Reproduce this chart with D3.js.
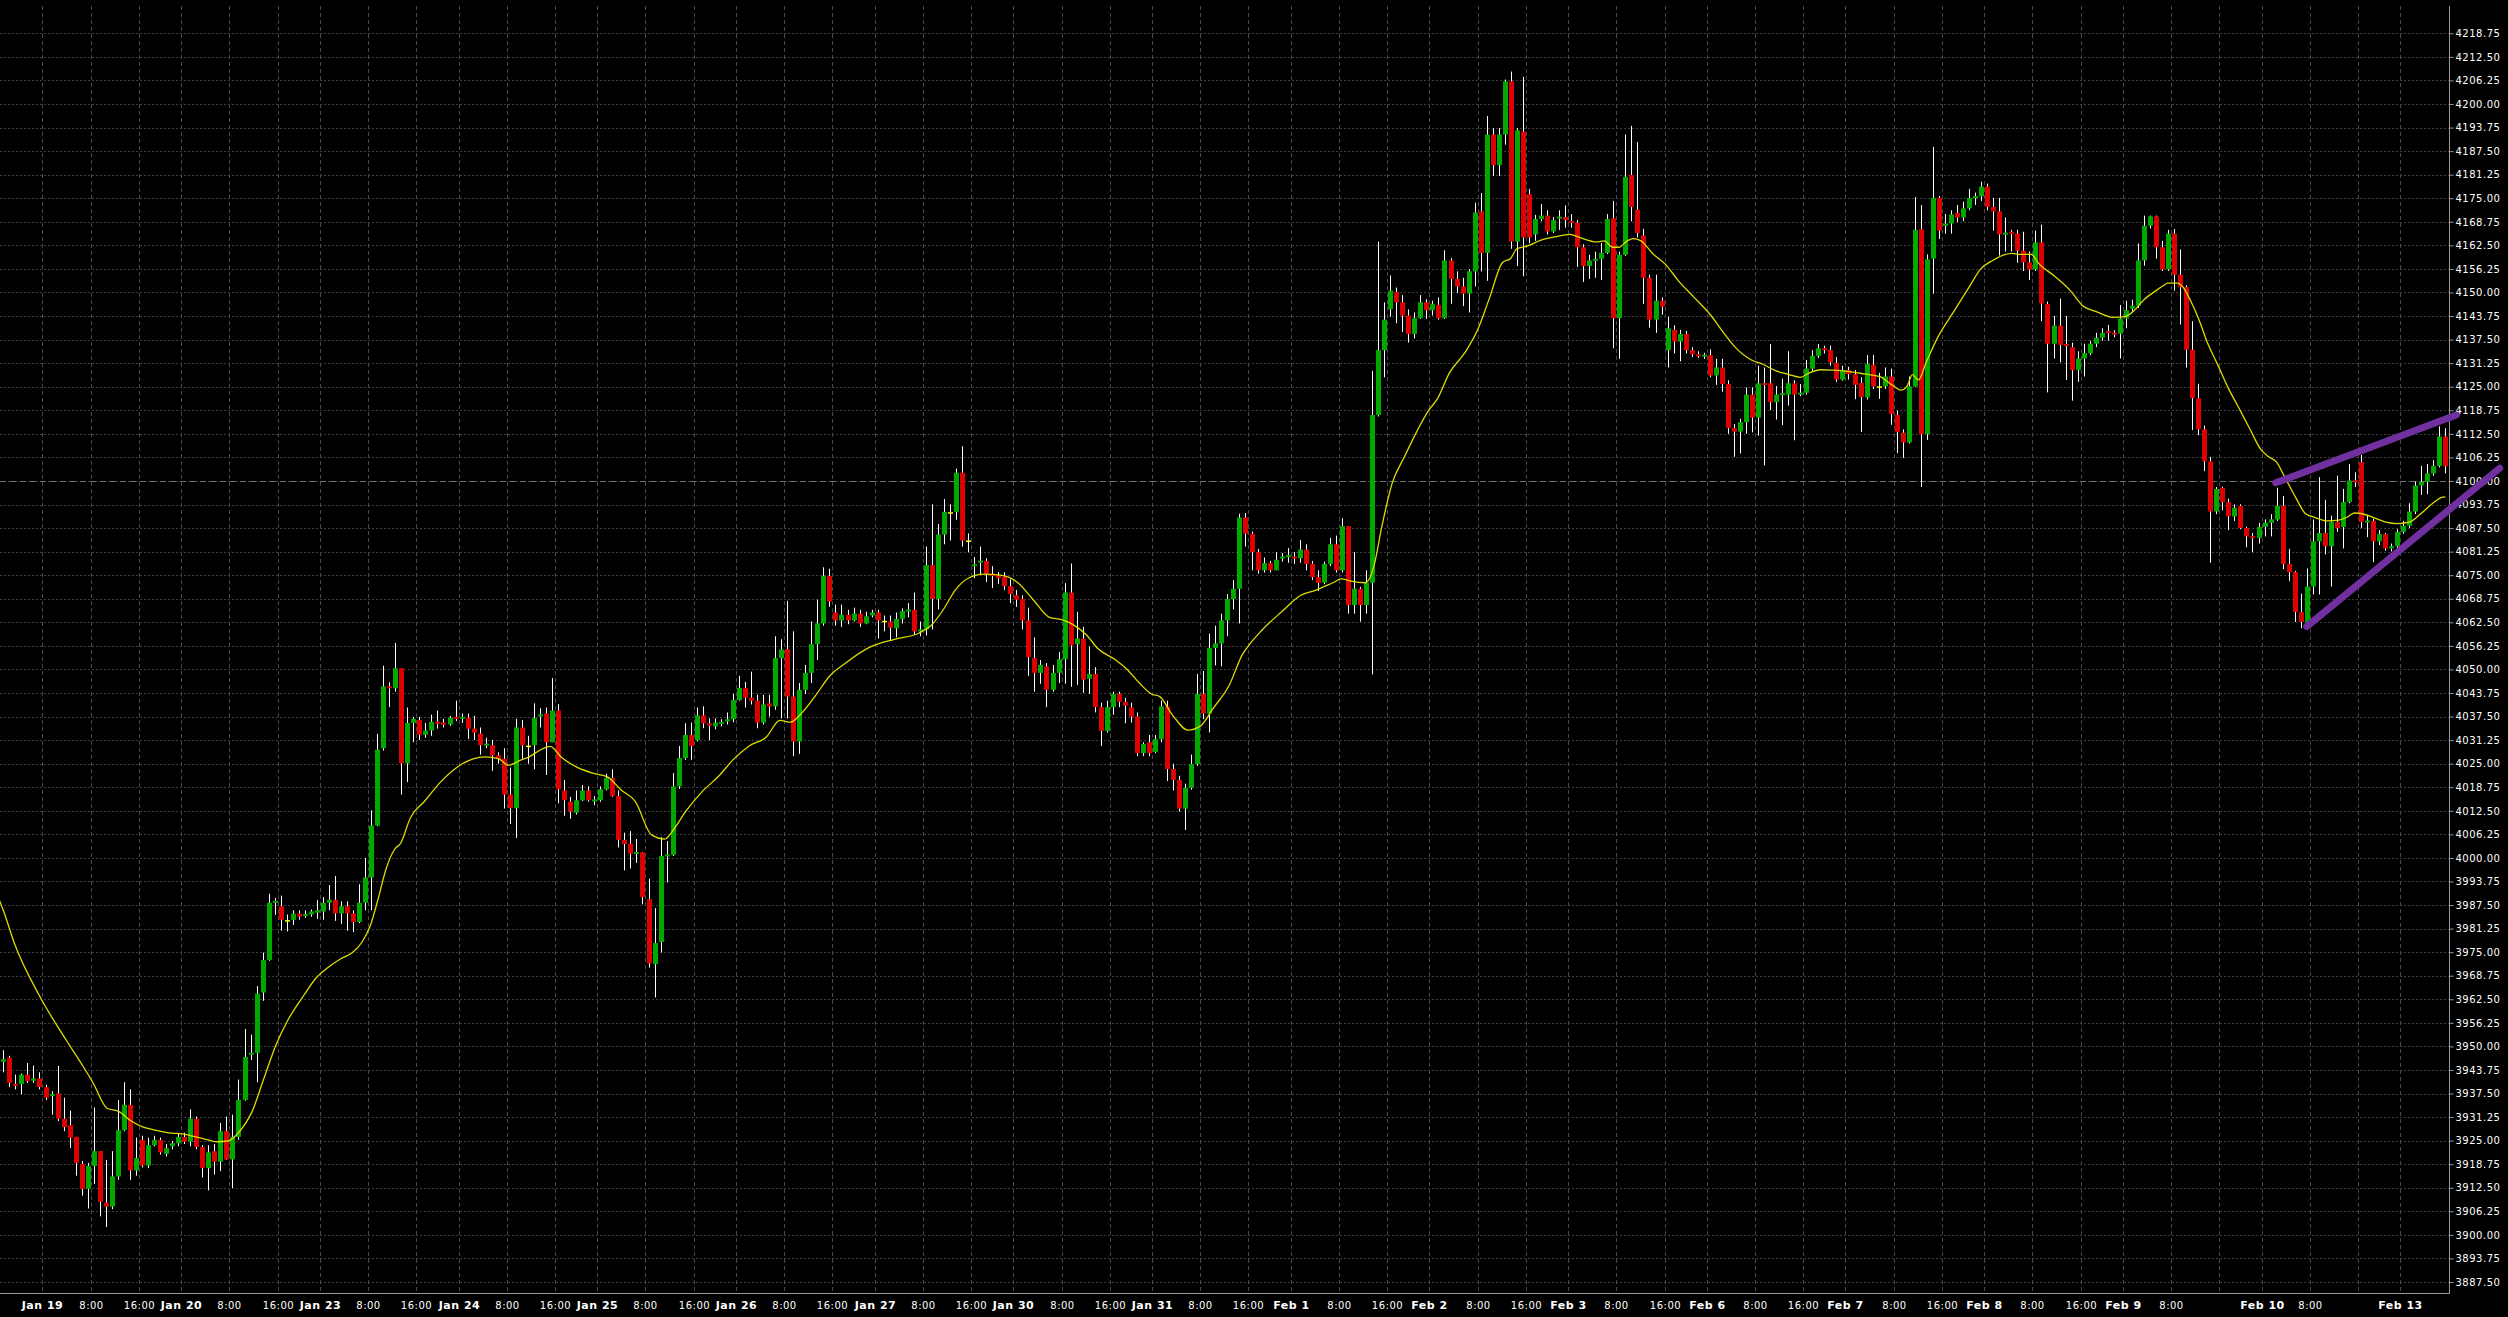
<!DOCTYPE html>
<html><head><meta charset="utf-8">
<script src="https://cdn.jsdelivr.net/npm/d3@7"></script>
<style>html,body{margin:0;padding:0;background:#000;overflow:hidden}svg{display:block}</style>
</head><body><svg id="chart" width="2508" height="1317"></svg>
<script>
const open=[
3945.9,3947.0,3940.0,3940.0,3942.5,3940.9,3941.5,3939.2,3936.9,3937.5,
3930.8,3929.1,3926.0,3918.8,3912.2,3918.3,3922.2,3908.6,3907.5,3915.5,
3927.8,3934.5,3917.1,3925.2,3918.4,3923.8,3925.2,3921.5,3923.5,3924.3,
3926.0,3924.7,3930.8,3923.3,3917.7,3922.2,3919.4,3927.5,3920.0,3926.0,
3935.8,3947.8,3948.3,3964.3,3972.9,3988.1,3987.2,3983.3,3983.6,3985.2,
3984.7,3985.0,3985.5,3985.8,3988.1,3988.9,3985.3,3987.2,3985.3,3983.0,
3988.1,3994.8,4008.6,4029.1,4045.5,4045.0,4050.3,4025.1,4035.8,4036.6,
4032.7,4033.8,4036.1,4035.8,4035.4,4037.4,4036.9,4037.2,4034.3,4033.0,
4029.9,4029.9,4027.2,4026.3,4016.8,4013.2,4034.6,4029.6,4029.9,4037.6,
4038.3,4030.7,4039.1,4017.9,4014.9,4012.0,4015.3,4017.9,4015.1,4015.3,
4018.2,4021.2,4016.4,4004.8,4003.8,4001.1,4001.5,3989.0,3971.8,3977.7,
4000.5,4000.8,4019.0,4026.5,4032.6,4031.2,4037.8,4035.7,4034.9,4035.7,
4036.2,4036.8,4041.9,4045.1,4042.5,4041.7,4035.9,4041.0,4040.2,4053.0,
4055.4,4042.8,4030.9,4044.6,4049.1,4056.7,4062.2,4074.8,4065.1,4063.0,
4064.5,4063.0,4064.8,4062.2,4064.3,4065.1,4062.7,4062.7,4060.9,4063.4,
4065.5,4065.8,4060.1,4060.6,4077.7,4068.7,4085.8,4091.5,4091.8,4102.2,
4084.0,4077.4,4078.4,4078.8,4075.3,4074.8,4074.6,4072.1,4069.7,4068.7,
4063.0,4053.0,4049.1,4050.8,4044.6,4049.1,4052.7,4070.4,4056.7,4058.2,
4047.5,4048.8,4040.0,4033.7,4040.0,4043.5,4041.4,4039.9,4037.5,4027.8,
4030.7,4028.1,4031.5,4040.2,4023.6,4020.7,4013.1,4018.6,4024.9,4043.5,
4038.3,4055.7,4056.9,4063.0,4068.7,4071.4,4090.3,4086.0,4081.1,4076.3,
4078.2,4076.3,4079.5,4079.9,4079.9,4079.5,4081.8,4078.0,4074.5,4073.0,
4078.0,4083.2,4076.3,4088.0,4067.1,4071.4,4067.1,4073.0,4117.5,4134.7,
4145.6,4150.1,4147.4,4143.9,4139.0,4143.2,4147.4,4145.3,4146.7,4143.2,
4158.5,4153.6,4151.6,4149.7,4155.6,4171.5,4160.5,4191.9,4183.8,4191.9,
4206.0,4163.5,4192.7,4176.1,4165.4,4169.5,4170.4,4166.2,4169.7,4170.0,
4168.9,4168.5,4162.0,4157.0,4158.5,4158.9,4160.5,4169.7,4143.2,4160.0,
4181.2,4172.0,4165.1,4153.9,4142.8,4147.8,4134.7,4140.1,4137.0,4139.0,
4134.7,4133.6,4133.1,4133.4,4128.0,4130.1,4125.7,4114.0,4113.1,4115.6,
4122.9,4116.8,4125.9,4125.9,4120.9,4122.9,4122.9,4125.9,4122.9,4123.4,
4129.8,4133.2,4135.2,4134.7,4131.3,4126.9,4129.4,4128.3,4126.0,4122.2,
4130.8,4124.9,4125.1,4127.7,4117.5,4112.8,4110.2,4125.1,4166.8,4112.4,
4159.0,4175.1,4167.7,4168.3,4171.1,4169.9,4172.3,4175.1,4175.5,4178.1,
4172.7,4171.5,4165.4,4166.1,4165.6,4161.1,4158.0,4156.1,4163.3,4146.9,
4136.4,4141.2,4136.3,4135.5,4129.4,4132.5,4133.9,4136.4,4138.0,4139.6,
4139.3,4139.1,4143.1,4145.7,4146.5,4158.5,4167.7,4170.2,4162.0,4156.1,
4165.6,4154.7,4151.4,4134.8,4121.9,4113.7,4105.2,4091.9,4098.2,4094.4,
4090.6,4093.4,4087.5,4085.3,4084.9,4087.8,4088.9,4089.8,4093.4,4078.0,
4075.8,4065.2,4062.6,4072.0,4084.0,4086.2,4082.7,4089.1,4087.8,4094.4,
4100.1,4105.0,4089.1,4089.4,4084.0,4085.9,4082.1,4082.7,4086.5,4088.1,
4091.9,4098.8,4099.8,4102.0,4104.0,4111.8];
const high=[
3949.0,3947.5,3942.5,3942.8,3945.6,3944.9,3943.1,3939.8,3938.1,3944.8,
3936.4,3933.0,3926.0,3919.6,3919.1,3933.8,3922.2,3919.9,3922.2,3935.8,
3940.5,3938.6,3925.8,3926.3,3925.8,3926.3,3925.8,3924.1,3924.9,3926.9,
3927.1,3933.3,3931.4,3923.8,3923.8,3924.1,3929.7,3931.4,3931.9,3941.2,
3954.6,3953.1,3966.0,3974.9,3990.5,3989.4,3990.0,3985.0,3986.1,3986.1,
3986.1,3986.3,3988.8,3989.6,3992.8,3995.2,3988.5,3988.5,3986.1,3993.0,
4000.0,4012.6,4032.9,4051.0,4046.6,4057.0,4050.3,4039.9,4037.4,4037.4,
4035.8,4038.0,4039.1,4036.9,4037.7,4041.7,4038.3,4038.3,4037.7,4034.6,
4031.9,4031.3,4028.0,4029.1,4024.0,4036.9,4036.6,4032.4,4041.0,4039.7,
4039.9,4047.7,4040.8,4020.7,4016.2,4017.9,4019.3,4019.0,4016.4,4019.0,
4022.3,4023.5,4017.9,4006.7,4007.1,4005.0,4001.5,3994.5,3986.7,4005.5,
4004.5,4022.5,4029.7,4035.7,4035.9,4039.9,4040.2,4037.0,4037.0,4036.8,
4038.6,4043.5,4048.3,4046.7,4049.4,4043.3,4043.3,4043.3,4058.8,4058.0,
4068.2,4060.1,4046.4,4051.2,4062.7,4068.5,4077.1,4076.7,4067.2,4067.2,
4065.8,4066.4,4065.8,4065.3,4065.8,4065.8,4064.3,4064.3,4065.1,4066.2,
4067.6,4070.4,4062.7,4082.6,4093.8,4088.6,4095.2,4093.8,4103.3,4109.2,
4086.1,4079.8,4082.6,4079.5,4077.4,4075.8,4075.8,4073.9,4071.1,4069.7,
4066.4,4058.5,4052.5,4051.7,4051.2,4054.6,4072.9,4078.1,4065.3,4061.3,
4056.1,4050.6,4041.2,4041.7,4044.1,4044.1,4042.5,4041.2,4038.6,4030.7,
4032.6,4032.6,4041.7,4041.7,4025.0,4021.8,4019.7,4027.4,4048.8,4049.6,
4059.5,4061.6,4064.8,4070.0,4073.7,4091.3,4091.5,4086.6,4082.0,4079.7,
4078.8,4081.1,4080.9,4082.2,4081.1,4084.3,4083.2,4078.8,4076.3,4078.6,
4084.9,4085.5,4090.1,4088.0,4081.1,4071.9,4076.3,4129.2,4163.5,4147.4,
4154.5,4151.3,4149.3,4145.5,4144.7,4149.3,4148.2,4147.8,4148.7,4161.2,
4159.1,4155.6,4153.9,4156.2,4173.8,4176.4,4196.8,4193.6,4193.6,4206.5,
4208.6,4193.6,4207.2,4177.5,4170.6,4173.5,4171.8,4170.0,4171.8,4173.1,
4170.8,4169.2,4162.8,4160.0,4160.8,4163.1,4170.8,4174.3,4160.8,4191.9,
4194.2,4189.9,4166.9,4154.7,4154.7,4148.7,4143.6,4141.3,4140.1,4139.8,
4135.5,4134.4,4134.0,4134.9,4132.4,4132.4,4126.7,4115.1,4116.5,4124.8,
4124.8,4130.6,4130.1,4136.3,4125.2,4127.1,4134.4,4126.7,4125.7,4132.1,
4134.7,4136.3,4135.9,4135.9,4132.9,4130.6,4130.3,4129.4,4127.5,4133.4,
4133.4,4128.7,4130.1,4129.8,4118.7,4113.7,4127.7,4175.3,4173.2,4160.1,
4188.6,4175.6,4170.8,4171.8,4173.2,4174.1,4177.5,4176.5,4179.4,4178.9,
4175.1,4175.1,4169.9,4166.6,4166.6,4166.1,4160.9,4166.4,4168.0,4147.6,
4143.8,4148.4,4143.8,4136.7,4134.4,4136.4,4137.2,4139.3,4140.5,4141.4,
4140.0,4146.7,4147.8,4148.1,4163.0,4170.4,4170.4,4170.4,4163.7,4166.6,
4166.8,4161.4,4151.9,4142.4,4125.8,4114.7,4106.4,4098.4,4098.5,4095.3,
4093.8,4093.8,4087.9,4086.2,4088.9,4089.8,4091.2,4098.2,4096.0,4082.0,
4076.1,4070.1,4076.8,4089.8,4101.0,4095.0,4090.8,4101.4,4097.9,4104.5,
4102.3,4106.9,4091.0,4090.0,4087.0,4086.2,4083.4,4087.2,4089.4,4094.1,
4099.8,4104.0,4104.5,4105.5,4114.5,4114.0];
const low=[
3943.1,3939.2,3938.6,3937.3,3940.3,3940.3,3938.6,3935.8,3931.9,3930.2,
3927.5,3923.0,3915.7,3910.4,3907.0,3913.5,3904.9,3902.1,3906.8,3914.6,
3927.5,3914.6,3915.7,3917.9,3917.7,3923.5,3921.3,3920.8,3922.7,3923.5,
3924.1,3923.5,3922.7,3915.2,3911.8,3916.0,3916.9,3919.9,3912.4,3925.2,
3935.6,3946.4,3940.5,3962.1,3972.7,3984.9,3980.7,3980.5,3982.2,3983.6,
3984.1,3984.4,3983.8,3983.6,3986.1,3983.3,3982.5,3980.7,3980.3,3982.7,
3986.1,3986.1,4008.4,4028.5,4040.0,4044.1,4016.8,4020.1,4030.7,4031.3,
4031.9,4032.4,4034.3,4034.6,4035.0,4036.3,4035.8,4031.6,4031.3,4027.4,
4029.1,4023.1,4025.0,4013.1,4009.0,4005.3,4026.3,4025.0,4023.5,4034.6,
4022.0,4030.7,4014.5,4011.2,4010.4,4011.5,4015.1,4014.9,4014.0,4014.9,
4017.9,4016.2,4002.8,3996.7,3997.2,3998.7,3987.7,3970.9,3963.0,3974.9,
3993.5,4000.5,4018.3,4026.0,4026.0,4030.9,4034.4,4031.2,4034.1,4034.9,
4035.4,4036.0,4041.7,4039.9,4040.7,4034.4,4035.4,4037.5,4039.3,4037.0,
4037.0,4027.0,4027.6,4043.5,4046.4,4052.5,4061.6,4066.6,4061.6,4061.3,
4062.0,4062.7,4061.3,4062.0,4063.8,4058.2,4060.1,4057.8,4058.5,4062.2,
4063.8,4059.2,4058.8,4059.0,4060.6,4065.9,4083.2,4084.2,4089.7,4082.6,
4081.1,4074.2,4075.3,4073.2,4071.6,4072.7,4071.1,4067.6,4066.6,4060.6,
4048.3,4044.1,4046.2,4040.0,4044.1,4046.4,4046.2,4045.4,4045.9,4043.8,
4043.5,4038.6,4029.7,4033.3,4038.0,4040.0,4035.7,4035.9,4027.0,4027.0,
4027.0,4027.8,4030.7,4020.4,4017.9,4012.3,4007.4,4018.1,4024.4,4036.8,
4033.3,4051.1,4050.8,4058.8,4065.9,4062.2,4082.6,4076.3,4075.4,4075.7,
4075.7,4076.3,4078.6,4078.3,4078.0,4078.3,4076.3,4073.7,4070.8,4072.6,
4077.4,4075.7,4075.7,4064.8,4064.8,4062.7,4064.8,4048.7,4117.1,4127.5,
4143.6,4141.8,4139.5,4136.7,4137.8,4143.0,4143.0,4143.9,4142.8,4143.0,
4147.0,4149.9,4146.4,4144.7,4151.6,4155.6,4153.1,4180.9,4180.9,4189.2,
4161.6,4157.0,4154.3,4163.1,4163.7,4168.9,4165.4,4165.8,4166.6,4167.2,
4167.2,4156.8,4152.8,4153.6,4153.9,4153.3,4160.2,4135.2,4132.4,4159.7,
4168.9,4164.6,4147.0,4140.7,4139.3,4144.1,4130.1,4133.8,4131.7,4133.8,
4132.9,4132.6,4132.4,4127.5,4125.5,4123.7,4112.5,4106.4,4107.3,4112.5,
4112.9,4112.0,4104.1,4118.8,4116.3,4114.8,4120.0,4110.8,4122.5,4122.9,
4129.2,4132.6,4133.8,4130.6,4126.3,4126.6,4126.9,4121.7,4113.0,4121.6,
4124.4,4121.8,4124.4,4114.9,4107.4,4106.1,4109.9,4124.9,4098.4,4110.9,
4149.7,4164.2,4165.6,4165.6,4168.7,4168.9,4171.8,4173.2,4174.3,4171.8,
4166.4,4159.8,4160.9,4160.9,4157.9,4155.7,4153.3,4155.7,4142.4,4123.5,
4132.5,4131.5,4126.8,4121.3,4126.3,4127.7,4133.4,4135.5,4137.2,4137.2,
4138.1,4132.5,4140.5,4144.8,4145.9,4157.1,4167.0,4159.0,4155.7,4155.7,
4150.5,4141.5,4130.1,4113.5,4112.1,4102.6,4078.3,4091.2,4092.2,4087.0,
4089.4,4087.2,4082.4,4081.1,4083.4,4085.3,4085.3,4089.4,4076.6,4073.5,
4062.6,4060.9,4061.2,4069.9,4069.9,4080.5,4072.0,4086.5,4082.1,4094.1,
4098.4,4087.5,4085.1,4078.5,4083.0,4081.5,4081.3,4082.2,4086.0,4087.5,
4091.2,4096.3,4096.5,4101.4,4103.6,4102.0];
const close=[
3946.6,3940.3,3939.6,3942.5,3940.8,3941.5,3939.2,3936.4,3937.3,3930.8,
3928.6,3925.8,3919.1,3912.2,3918.3,3922.2,3908.8,3907.5,3915.5,3927.8,
3934.5,3917.1,3920.4,3918.4,3923.8,3925.2,3921.9,3923.0,3924.3,3926.0,
3924.7,3930.8,3923.3,3917.7,3921.9,3919.4,3927.5,3920.0,3926.0,3935.8,
3947.2,3948.3,3964.0,3972.9,3988.1,3988.5,3983.6,3983.3,3985.2,3984.4,
3985.0,3985.8,3986.1,3988.1,3988.9,3985.3,3987.2,3985.3,3983.0,3988.1,
3994.8,4008.6,4028.7,4045.5,4045.0,4050.3,4025.1,4035.8,4036.9,4032.7,
4033.8,4036.1,4035.6,4035.4,4037.2,4036.9,4037.4,4034.3,4033.2,4029.9,
4030.2,4027.2,4026.3,4016.8,4013.2,4034.6,4029.9,4029.6,4037.1,4038.0,
4030.7,4039.1,4018.2,4015.3,4012.3,4015.3,4017.9,4015.3,4015.4,4018.2,
4021.2,4016.4,4004.8,4003.7,4001.1,4001.5,3989.6,3972.0,3977.4,4000.5,
4000.8,4019.0,4026.5,4032.6,4029.7,4037.8,4035.7,4035.1,4035.9,4035.9,
4036.8,4041.9,4045.1,4042.5,4041.7,4035.9,4040.7,4040.2,4053.0,4055.3,
4042.8,4030.9,4044.6,4049.1,4056.7,4062.2,4074.8,4068.0,4063.0,4064.5,
4063.0,4064.8,4062.2,4064.1,4065.1,4063.0,4062.7,4061.1,4063.4,4065.5,
4065.8,4060.1,4060.6,4077.7,4068.7,4085.8,4091.8,4091.5,4102.2,4084.2,
4084.0,4077.9,4078.8,4075.3,4074.8,4074.2,4072.1,4070.0,4068.5,4063.0,
4053.3,4049.1,4051.2,4044.6,4049.1,4052.7,4070.4,4056.4,4058.2,4047.3,
4048.8,4040.0,4033.7,4040.0,4043.5,4041.4,4040.4,4037.5,4027.8,4030.2,
4027.8,4031.5,4040.2,4023.6,4020.7,4013.1,4018.6,4024.9,4043.5,4038.3,
4055.7,4056.9,4063.0,4068.7,4071.4,4090.3,4086.0,4081.1,4076.3,4078.2,
4076.3,4079.1,4079.9,4080.2,4079.5,4081.8,4078.0,4074.5,4073.0,4078.0,
4083.2,4076.3,4088.0,4067.1,4071.4,4067.1,4073.0,4117.5,4134.7,4142.8,
4150.5,4147.4,4143.9,4139.0,4143.2,4147.4,4145.3,4147.0,4143.2,4158.5,
4153.6,4151.6,4149.7,4155.6,4171.2,4160.5,4191.9,4183.8,4191.9,4206.0,
4163.5,4193.0,4164.6,4164.6,4169.5,4170.4,4166.2,4169.2,4170.0,4169.2,
4168.5,4162.0,4157.0,4158.5,4158.9,4160.5,4169.5,4143.2,4160.0,4180.7,
4172.7,4165.8,4153.9,4142.8,4147.8,4146.2,4140.5,4137.0,4139.0,4134.7,
4133.6,4133.1,4133.4,4128.0,4130.1,4125.7,4114.0,4113.1,4115.6,4122.9,
4116.8,4125.9,4125.5,4120.9,4122.9,4123.2,4125.9,4122.9,4123.4,4129.8,
4133.2,4135.2,4134.7,4131.5,4126.9,4129.4,4128.3,4125.5,4122.3,4131.0,
4125.1,4124.9,4127.7,4117.8,4113.0,4110.2,4125.1,4166.6,4112.4,4158.8,
4175.1,4166.4,4168.3,4170.7,4169.9,4172.3,4175.1,4175.5,4178.1,4172.7,
4171.5,4165.4,4165.8,4165.6,4161.1,4158.0,4156.1,4163.3,4147.1,4136.4,
4141.2,4136.1,4135.8,4129.4,4132.5,4133.9,4136.4,4138.0,4139.3,4139.3,
4138.9,4143.1,4145.3,4146.5,4158.5,4167.7,4170.2,4162.0,4156.1,4165.6,
4154.7,4151.4,4134.8,4122.0,4113.7,4105.2,4091.9,4097.9,4094.4,4090.6,
4092.9,4087.5,4085.3,4084.9,4087.8,4088.9,4089.8,4093.4,4078.0,4075.8,
4065.2,4062.6,4072.0,4084.0,4086.2,4082.7,4089.1,4087.5,4094.4,4100.1,
4099.7,4089.1,4089.4,4084.0,4085.9,4082.1,4082.7,4086.5,4088.1,4091.9,
4098.8,4099.8,4102.0,4104.0,4111.8,4103.9];

// Moving average (yellow): bar position and value
const maIdx=[-0.8,0,1.9,5.9,10.5,13.2,14.9,17.2,19.2,21.2,23.2,25.2,27.2,29.9,31.9,33.9,35.5,37.2,39.2,41.2,43.2,45.2,47.2,49.9,51.9,53.9,55.9,57.9,59.5,60.9,62.2,63.5,64.9,65.9,67.5,69.9,72.5,75.2,77.9,79.9,82.2,83.7,85.9,87.2,88.9,90.7,92.5,95.2,97.9,100.2,102.4,104.8,107.5,109.7,111.2,113.2,115.9,118.7,121.0,123.7,126.5,128.8,130.5,132.5,134.9,136.9,139.7,143.7,147.8,151.8,153.9,155.9,157.9,160.0,162.7,165.4,168.1,170.8,173.5,175.5,177.6,179.6,181.6,184.3,186.3,188.4,190.4,191.8,193.8,196.5,198.6,200.6,203.3,205.5,206.6,208.6,212.0,215.1,217.8,220.5,221.9,223.5,225.9,227.3,228.6,230.3,232.3,234.4,236.4,237.8,239.8,242.5,244.5,246.5,248.6,250.0,251.0,252.7,255.0,257.4,259.8,261.4,264.2,265.5,266.9,267.9,269.3,270.3,271.6,273.6,275.7,277.7,280.4,283.1,285.2,287.2,289.9,291.9,294.0,296.0,298.0,299.4,301.4,303.4,306.1,308.6,311.2,313.1,314.7,315.7,316.6,317.6,318.9,320.8,323.4,326.0,327.9,329.9,331.8,333.1,334.4,336.3,337.6,340.2,342.8,344.7,347.3,349.9,351.8,353.1,355.0,357.0,358.3,358.9,360.5,361.5,362.8,364.1,365.4,367.3,368.9,370.5,372.5,374.4,375.7,377.0,378.3,380.2,381.8,383.4,385.4,387.3,388.6,389.9,391.2,393.1,395.1,397.0,399.0,400.9,402.9,404.5,405];
const maVal=[3989.4,3986.1,3977.1,3963.7,3951.5,3944.8,3940.3,3933.6,3932.7,3930.2,3928.6,3927.8,3927.1,3926.7,3926.0,3925.2,3924.7,3924.9,3927.5,3932.5,3941.4,3950.3,3957.0,3963.7,3968.2,3971.0,3973.2,3974.9,3977.7,3982.2,3989.4,3997.2,4002.3,4003.9,4010.6,4015.1,4020.1,4024.0,4026.3,4026.8,4026.3,4024.6,4026.0,4026.8,4028.5,4029.6,4026.8,4024.0,4022.4,4021.5,4018.1,4015.0,4006.1,4005.0,4007.6,4012.4,4017.6,4021.8,4026.0,4029.7,4032.0,4036.5,4036.0,4038.6,4043.5,4048.0,4051.7,4055.9,4058.0,4059.6,4061.7,4065.9,4071.1,4074.2,4075.3,4075.0,4073.2,4068.5,4063.8,4063.2,4061.7,4059.2,4055.4,4052.7,4050.1,4046.4,4043.5,4042.8,4038.1,4033.9,4035.1,4039.6,4045.8,4054.0,4056.5,4060.2,4065.3,4069.6,4071.1,4073.0,4074.0,4073.4,4073.0,4077.4,4087.8,4099.3,4106.2,4113.1,4118.8,4121.7,4128.6,4134.3,4140.1,4148.7,4157.9,4159.1,4161.6,4162.3,4163.9,4164.8,4165.4,4164.6,4163.4,4163.7,4162.0,4162.0,4163.7,4164.3,4163.7,4160.2,4157.4,4153.3,4148.7,4144.1,4139.5,4135.5,4132.1,4130.9,4129.2,4128.3,4127.5,4128.6,4129.5,4129.4,4129.0,4128.4,4127.7,4125.6,4124.1,4125.1,4128.2,4126.8,4131.5,4138.1,4144.8,4151.4,4156.2,4158.5,4160.0,4160.4,4160.1,4160.1,4157.6,4154.3,4150.5,4146.7,4144.8,4143.4,4143.6,4144.8,4148.1,4150.5,4151.9,4152.5,4152.5,4151.4,4147.6,4142.9,4137.2,4130.6,4124.9,4120.1,4114.0,4108.3,4106.4,4105.0,4101.2,4095.5,4091.3,4090.3,4089.4,4089.6,4090.3,4091.5,4091.3,4090.3,4089.1,4088.7,4089.1,4091.3,4094.1,4095.7,4095.8];

const xTickIdx=[6,14,22,29,37,45,52,60,68,75,83,91,98,106,114,121,129,137,144,152,160,167,175,183,190,198,206,213,221,229,236,244,252,259,267,275,282,290,298,305,313,321,328,336,344,351,359,367,374,382,390,397];
const xTickLabels=["Jan 19","8:00","16:00","Jan 20","8:00","16:00","Jan 23","8:00","16:00","Jan 24","8:00","16:00","Jan 25","8:00","16:00","Jan 26","8:00","16:00","Jan 27","8:00","16:00","Jan 30","8:00","16:00","Jan 31","8:00","16:00","Feb 1","8:00","16:00","Feb 2","8:00","16:00","Feb 3","8:00","16:00","Feb 6","8:00","16:00","Feb 7","8:00","16:00","Feb 8","8:00","16:00","Feb 9","8:00","","Feb 10","8:00","","Feb 13"];
const yTickStart=3887.5, yTickEnd=4218.75, yTickStep=6.25;
const hLineLevel=4100;
// purple trend lines: [barIndex, price] endpoints
const trendLines=[[[376.85,4099.5],[406.8,4117.5]],[[382.0,4061.4],[414.0,4103.4]]];

const W=2508,H=1317, plotL=0, plotR=2449, plotT=6, plotB=1293;
const svg=d3.select("#chart");
svg.append("rect").attr("width",W).attr("height",H).attr("fill","#000");
const x=d3.scaleLinear().domain([0,405]).range([3.3,3.3+6.03*405]);
const y=d3.scaleLinear().domain([3884.58,4226.0]).range([plotB,plotT]);
const yTicks=d3.range(yTickStart,yTickEnd+0.01,yTickStep);
const gx=i=>Math.round(x(i))+3.5;

// grid
const grid=svg.append("g");
grid.selectAll("line.h").data(yTicks).join("line").attr("class","h")
  .attr("x1",plotL).attr("x2",plotR).attr("y1",d=>Math.round(y(d))+0.5).attr("y2",d=>Math.round(y(d))+0.5)
  .attr("stroke","#3e3e3e").attr("stroke-dasharray","2,2");
grid.selectAll("line.v").data(xTickIdx).join("line").attr("class","v")
  .attr("x1",d=>gx(d)).attr("x2",d=>gx(d)).attr("y1",plotT).attr("y2",plotB)
  .attr("stroke","#484848").attr("stroke-dasharray","4,3");
// 4100 level line
svg.append("line").attr("x1",plotL).attr("x2",plotR).attr("y1",Math.round(y(hLineLevel))+0.5).attr("y2",Math.round(y(hLineLevel))+0.5)
  .attr("stroke","#707070").attr("stroke-dasharray","6,4");

const bars=open.map((o,i)=>({i,o,h:high[i],l:low[i],c:close[i]}));
const cg=svg.append("g");
cg.selectAll("line.w").data(bars).join("line").attr("class","w")
  .attr("x1",d=>Math.round(x(d.i))+0.5).attr("x2",d=>Math.round(x(d.i))+0.5)
  .attr("y1",d=>y(d.h)).attr("y2",d=>y(d.l)).attr("stroke","#ffffff").attr("stroke-width",1);
cg.selectAll("rect.b").data(bars).join("rect").attr("class","b")
  .attr("x",d=>Math.round(x(d.i))-2).attr("width",5)
  .attr("y",d=>{const a=y(d.o),b=y(d.c);const h=Math.max(Math.abs(a-b),d.o===d.c?1.5:2);return (a+b)/2-h/2;})
  .attr("height",d=>Math.max(Math.abs(y(d.o)-y(d.c)),d.o===d.c?1.5:2))
  .attr("fill",d=>d.c>d.o?"#00a800":(d.c<d.o?"#dd0000":"#ffff00"));

// moving average
const ma=maIdx.map((v,k)=>[v,maVal[k]]);
svg.append("defs").append("clipPath").attr("id","pc").append("rect").attr("x",plotL).attr("y",plotT).attr("width",plotR-plotL).attr("height",plotB-plotT);
svg.append("path").datum(ma).attr("clip-path","url(#pc)")
  .attr("d",d3.line().x(d=>x(d[0])).y(d=>y(d[1])).curve(d3.curveMonotoneX))
  .attr("fill","none").attr("stroke","#dcdc00").attr("stroke-width",1.3);

// axes frame
svg.append("line").attr("x1",plotL).attr("x2",plotR+0.5).attr("y1",plotB+0.5).attr("y2",plotB+0.5).attr("stroke","#9a9a9a");
const ya=svg.append("g").attr("transform",`translate(${plotR+0.5},0)`)
  .call(d3.axisRight(y).tickValues(yTicks).tickSize(4).tickSizeOuter(0).tickPadding(2).tickFormat(d=>d.toFixed(2)));
ya.select(".domain").attr("stroke","#9a9a9a").attr("d",`M0,${plotT}V${plotB+0.5}`);
ya.selectAll(".tick line").attr("stroke","#9a9a9a");
ya.selectAll(".tick text").attr("fill","#ffffff").attr("font-family","DejaVu Sans, sans-serif").attr("font-size","10px").attr("letter-spacing","0.5px");

const xa=svg.append("g");
xa.selectAll("text").data(xTickIdx).join("text")
  .attr("x",d=>gx(d)).attr("y",plotB+16).attr("text-anchor","middle")
  .attr("fill","#ffffff").attr("font-family","DejaVu Sans, sans-serif")
  .attr("font-size",(d,k)=>/^[A-Z]/.test(xTickLabels[k])?"11px":"10px")
  .attr("font-weight",(d,k)=>/^[A-Z]/.test(xTickLabels[k])?"bold":"normal")
  .attr("letter-spacing","0.5px")
  .text((d,k)=>xTickLabels[k]);

// trend lines
svg.append("g").selectAll("line").data(trendLines).join("line")
  .attr("x1",d=>x(d[0][0])).attr("y1",d=>y(d[0][1])).attr("x2",d=>x(d[1][0])).attr("y2",d=>y(d[1][1]))
  .attr("stroke","#7030a0").attr("stroke-width",7).attr("stroke-linecap","round");
</script></body></html>
